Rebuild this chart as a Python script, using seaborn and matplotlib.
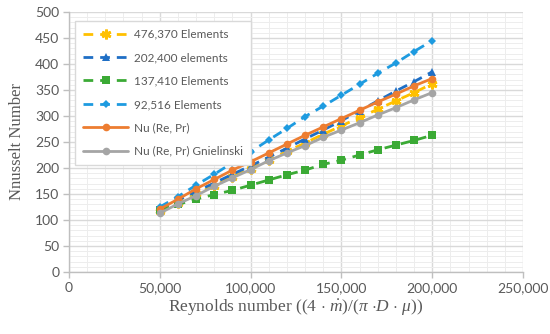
import numpy as np
import pandas as pd
import matplotlib
matplotlib.use("Agg")
import matplotlib.pyplot as plt
from matplotlib.ticker import MultipleLocator, FuncFormatter
import seaborn as sns

reynolds = [50000, 60000, 70000, 80000, 90000, 100000, 110000, 120000,
            130000, 140000, 150000, 160000, 170000, 180000, 190000, 200000]

nu_476370 = [117, 133, 150, 166, 183, 199, 215, 232, 248, 265, 281, 297, 313, 329, 345, 362]
nu_202400 = [122, 138, 155, 171, 188, 204, 221, 238, 256, 273, 291, 310, 329, 348, 366, 385]
nu_137410 = [119, 130, 140, 149, 157, 167, 177, 187, 196, 207, 215, 225, 235, 244, 253, 263]
nu_92516 = [125, 145, 167, 188, 210, 231, 254, 276, 299, 319, 340, 361, 382, 402, 424, 445]
nu_corr = [121, 140, 160, 178, 196, 212, 229, 246, 263, 279, 295, 311, 327, 342, 358, 372]
nu_gnielinski = [113, 131, 147, 165, 181, 197, 214, 229, 243, 259, 273, 287, 302, 316, 331, 345]

series_names = ["476,370 Elements", "202,400 elements", "137,410 Elements",
                "92,516 Elements", "Nu (Re, Pr)", "Nu (Re, Pr) Gnielinski"]
series_values = [nu_476370, nu_202400, nu_137410, nu_92516, nu_corr, nu_gnielinski]

colors = ["#FFC000", "#1F6FC5", "#3BAA35", "#1E9BE0", "#ED7D31", "#A5A5A5"]
markers = [(6, 2, 0), "^", "s", "D", "o", "o"]
msizes = [7, 6, 6, 4.5, 5.5, 5.5]
dashed = [True, True, True, True, False, False]

sns.set_theme(style="white")
plt.rcParams["font.family"] = ["Lato", "DejaVu Sans"]
plt.rcParams["mathtext.fontset"] = "custom"
plt.rcParams["mathtext.rm"] = "Liberation Serif"
plt.rcParams["mathtext.it"] = "Liberation Serif:italic"

df = pd.DataFrame({"Re": reynolds})
for name, vals in zip(series_names, series_values):
    df[name] = vals

fig = plt.figure(figsize=(5.5, 3.34), dpi=100)
ax = fig.add_axes([69 / 550, 1 - 272 / 334, (523 - 69) / 550, (272 - 12) / 334])

for name, c, m, ms, d in zip(series_names, colors, markers, msizes, dashed):
    kw = dict(color=c, marker=m, markersize=ms, linewidth=2,
              markeredgecolor=c, markerfacecolor=c)
    if m == (6, 2, 0):
        kw["markeredgewidth"] = 2
    else:
        kw["markeredgewidth"] = 0
    sns.lineplot(data=df, x="Re", y=name, ax=ax, label=name, **kw)
    if d:
        ax.lines[-1].set_dashes([3.5, 2.5])

ax.set_xlim(0, 250000)
ax.set_ylim(0, 500)
ax.xaxis.set_major_locator(MultipleLocator(50000))
ax.xaxis.set_minor_locator(MultipleLocator(10000))
ax.yaxis.set_major_locator(MultipleLocator(50))
ax.yaxis.set_minor_locator(MultipleLocator(10))
ax.xaxis.set_major_formatter(FuncFormatter(lambda v, p: f"{int(v):,}"))

ax.grid(which="major", color="#D9D9D9", linewidth=1)
ax.grid(which="minor", color="#EDEDED", linewidth=0.7)
ax.set_axisbelow(True)

for s in ["top", "right"]:
    ax.spines[s].set_visible(False)
for s in ["left", "bottom"]:
    ax.spines[s].set_color("#BFBFBF")
    ax.spines[s].set_linewidth(1)

ax.tick_params(which="major", length=4, color="#BFBFBF", width=1,
               labelsize=10, labelcolor="#595959", pad=3, left=True, bottom=True)
ax.tick_params(which="minor", length=0)

ax.set_ylabel("Nnusselt Number", family="Liberation Serif", fontsize=12,
              color="#595959", labelpad=7)
ax.set_xlabel(r"Reynolds number ((4 $\cdot$ $\dot{m}$)/($\pi$ $\cdot$$D$ $\cdot$ $\mu$))",
              family="Liberation Serif", fontsize=12.5, color="#595959", labelpad=3)

leg = ax.legend(loc="upper left", bbox_to_anchor=(0.0, 0.99), fontsize=8.5,
                handlelength=3.8, labelspacing=1.05, borderpad=0.7, handletextpad=0.5,
                frameon=True, fancybox=False, edgecolor="#D9D9D9", framealpha=1)
for t in leg.get_texts():
    t.set_color("#595959")

fig.savefig("out.png", dpi=100)
